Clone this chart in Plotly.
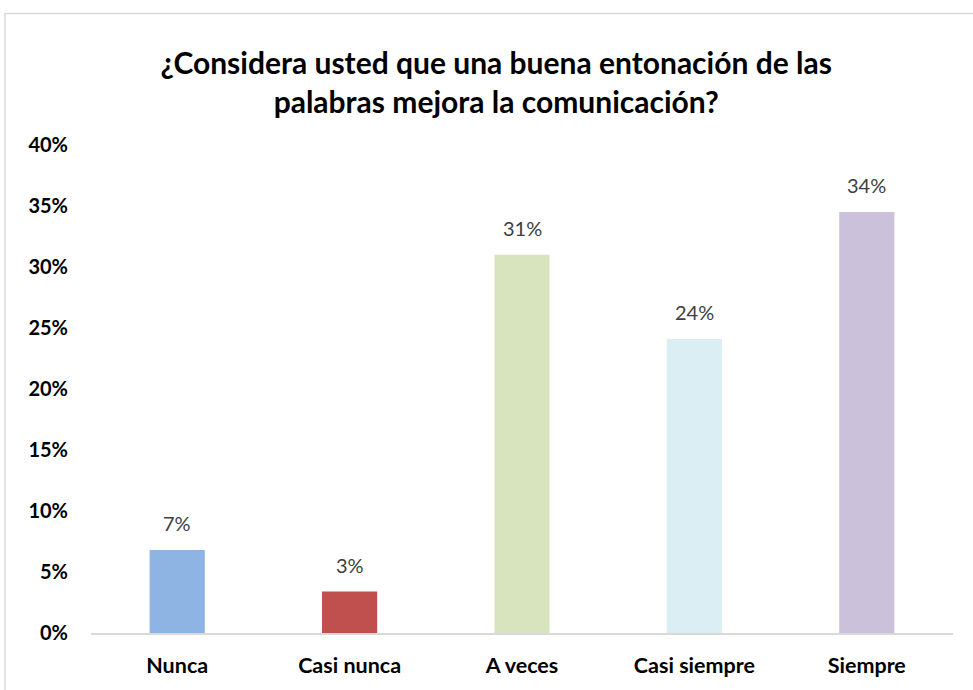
import plotly.graph_objects as go

categories = ["Nunca", "Casi nunca", "A veces", "Casi siempre", "Siempre"]
values = [0.068, 0.034, 0.310, 0.241, 0.345]
labels = ["7%", "3%", "31%", "24%", "34%"]
colors = ["#8EB4E3", "#C0504D", "#D7E4BD", "#DBEEF4", "#CCC1DA"]
tick_vals = [0, 0.05, 0.10, 0.15, 0.20, 0.25, 0.30, 0.35, 0.40]
tick_text = ["0%", "5%", "10%", "15%", "20%", "25%", "30%", "35%", "40%"]

font_family = "Lato, 'Open Sans', Arial, sans-serif"

fig = go.Figure(go.Bar(
    x=categories,
    y=values,
    marker=dict(color=colors, line=dict(width=0)),
    width=0.32,
    cliponaxis=False,
    hoverinfo="x+y",
))

for c, v, t in zip(categories, values, labels):
    fig.add_annotation(
        x=c, y=v, text=t, showarrow=False,
        yanchor="bottom", yshift=13,
        font=dict(size=20, color="#404040", family=font_family),
    )

fig.update_layout(
    width=973, height=690,
    margin=dict(l=91, r=20, t=145, b=55),
    paper_bgcolor="white",
    plot_bgcolor="white",
    showlegend=False,
    title=dict(
        text="<b>¿Considera usted que una buena entonación de las<br>palabras mejora la comunicación?</b>",
        x=0.510, xanchor="center",
        y=0.893, yanchor="middle",
        font=dict(size=30, color="black", family=font_family),
    ),
    xaxis=dict(
        showline=True, linecolor="#D9D9D9", linewidth=1.5,
        ticks="", tickfont=dict(size=21.5, color="black", family=font_family),
        tickprefix="<b>", ticksuffix="</b>",
        showgrid=False, zeroline=False, ticklabelstandoff=12,
    ),
    yaxis=dict(
        range=[0, 0.40],
        tickvals=tick_vals, ticktext=["<b>" + t + "</b>" for t in tick_text],
        tickfont=dict(size=20, color="black", family=font_family),
        showgrid=False, zeroline=False, showline=False,
        ticks="", ticklabelstandoff=22,
    ),
    shapes=[dict(
        type="rect", xref="paper", yref="paper",
        x0=(5 - 91) / 862, x1=1.2, y0=-0.3, y1=(635 - 13) / 490,
        line=dict(color="#D9D9D9", width=1.5), fillcolor="rgba(0,0,0,0)",
        layer="below",
    )],
)

fig.write_html("out.html", config={"displayModeBar": False},
               post_script="document.body.style.margin='0px';")
